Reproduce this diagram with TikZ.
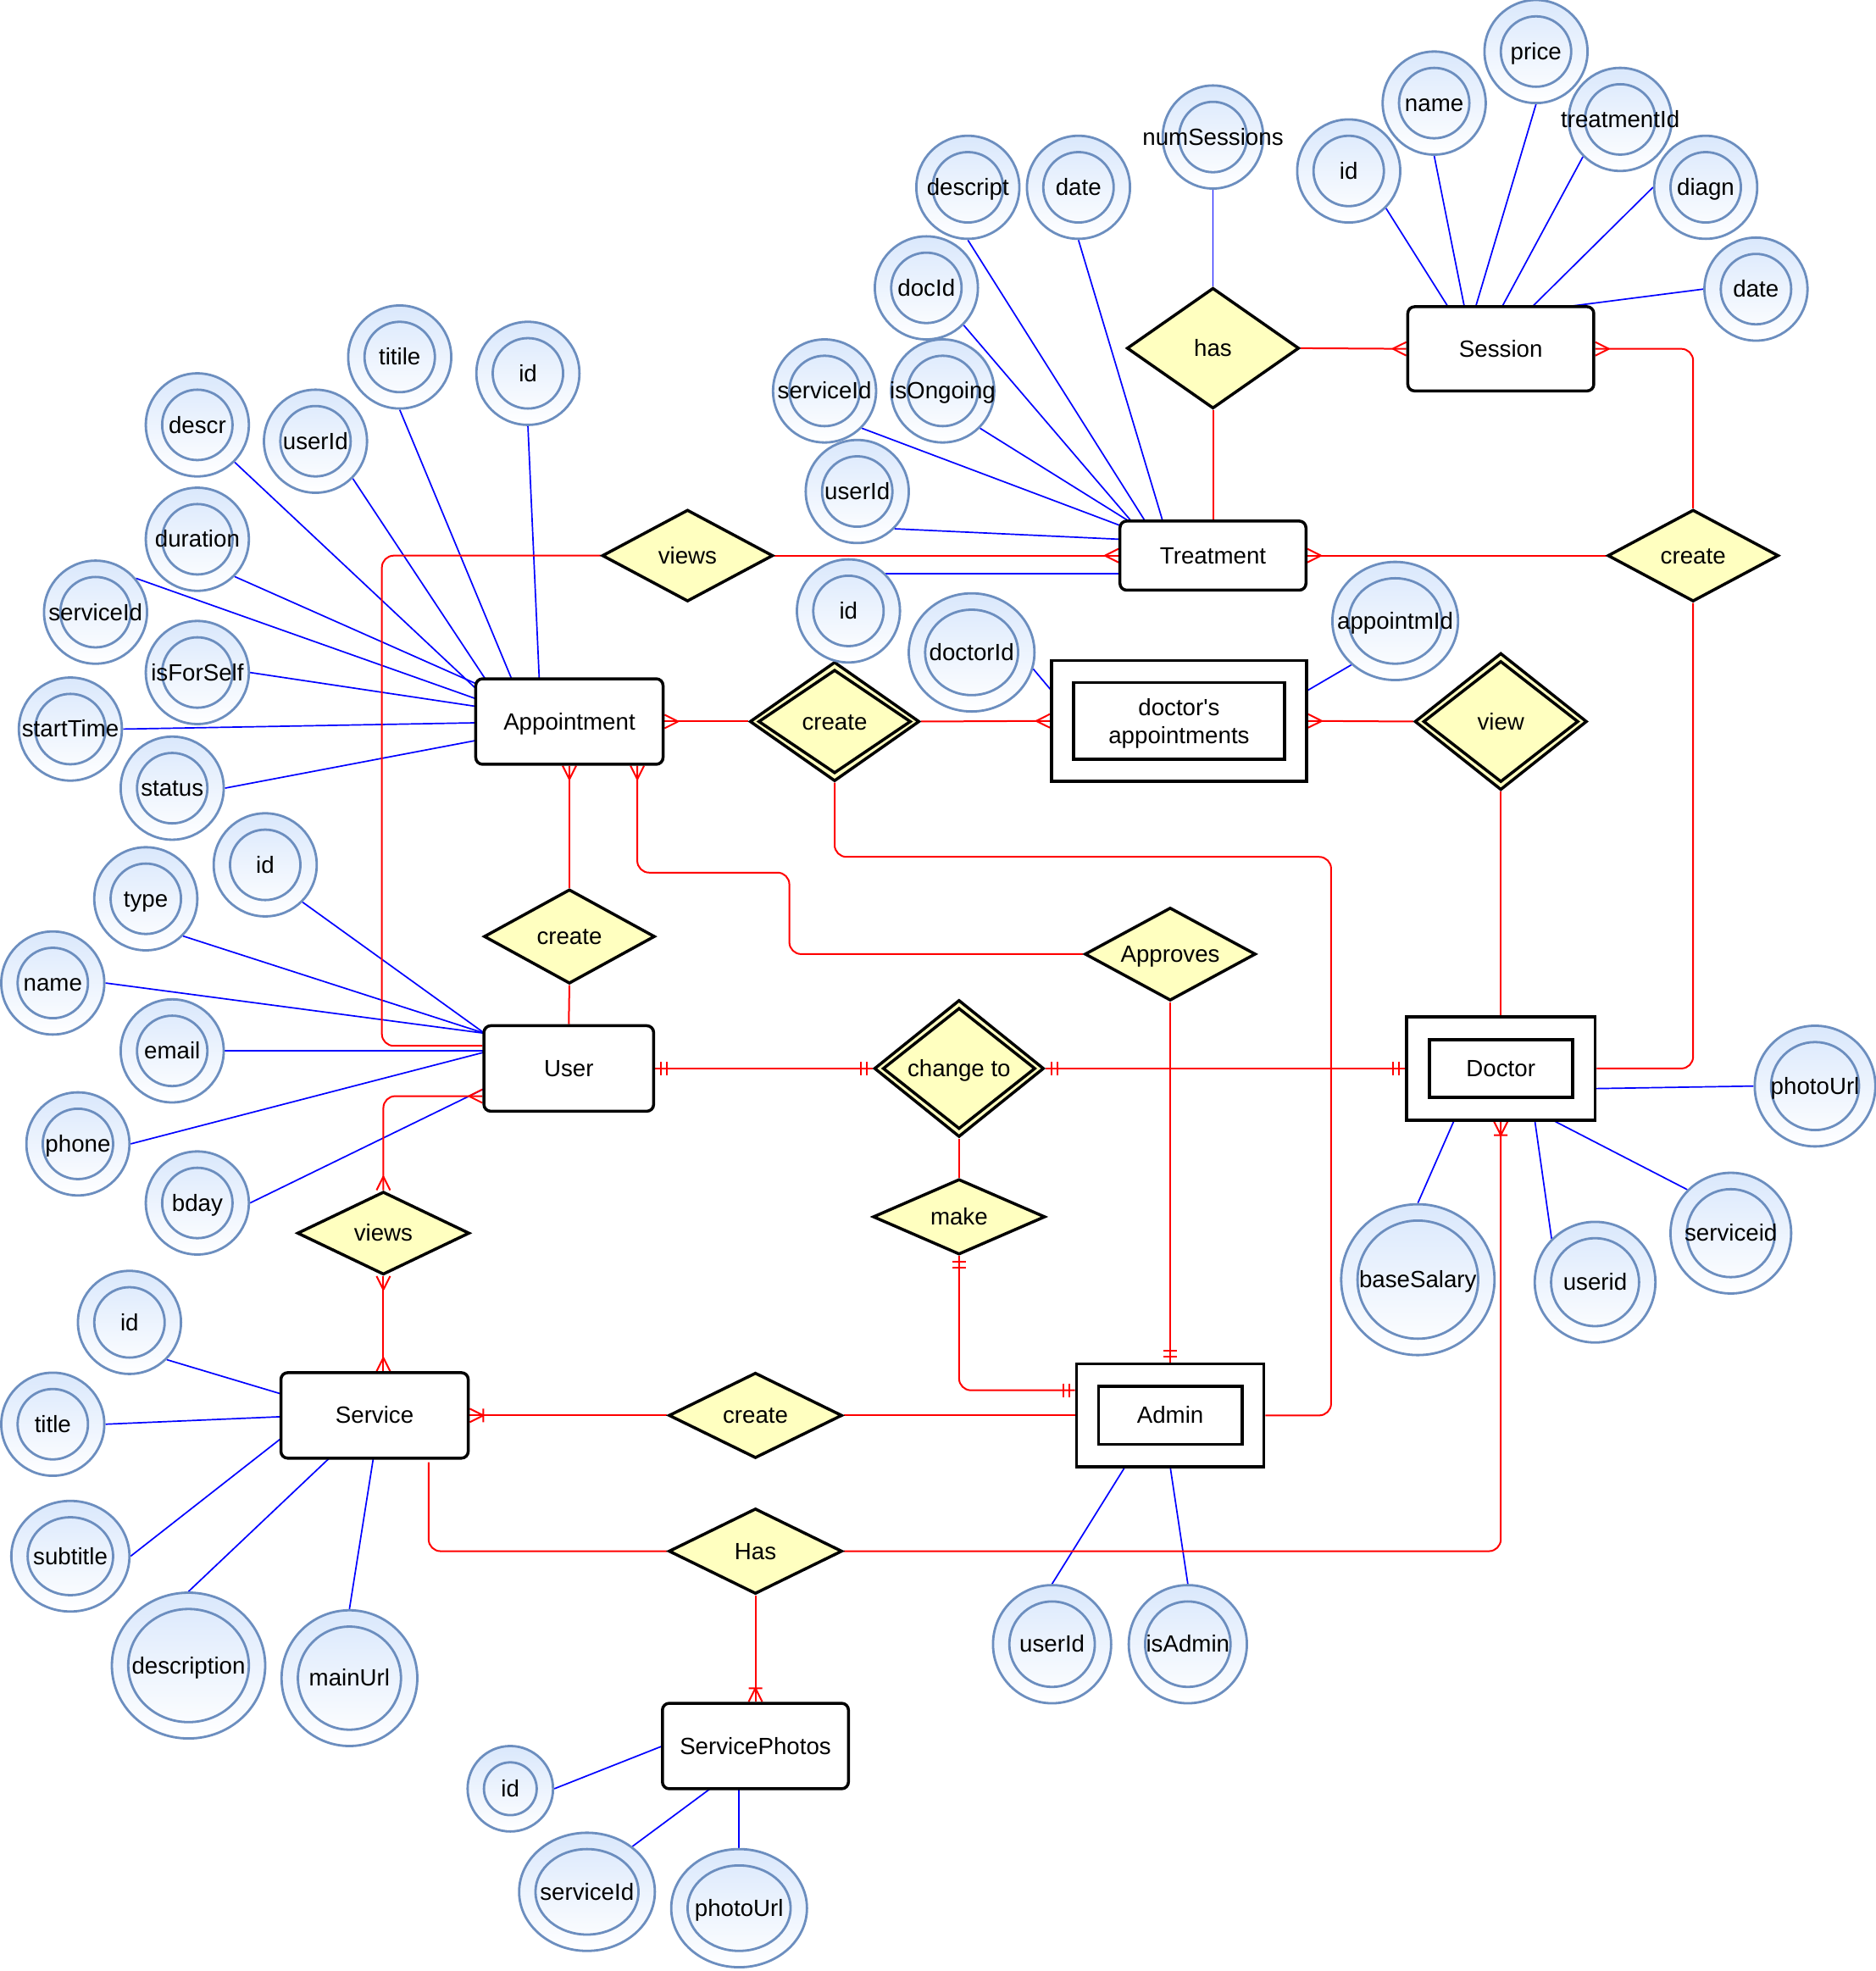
\documentclass[tikz,border=0pt]{standalone}
\usepackage{fontspec}
\setmainfont{Liberation Sans}
\usetikzlibrary{shapes.geometric,arrows.meta}

\definecolor{attrline}{HTML}{6C8EBF}
\definecolor{attrtop}{HTML}{DAE8FC}
\definecolor{relfill}{HTML}{FFFFC0}
\definecolor{linkred}{HTML}{FF0000}
\definecolor{linkblue}{HTML}{0000FF}

% one drawing unit
\newcommand\ux{1.4839pt}

\pgfdeclarelayer{bg}
\pgfsetlayers{bg,main}

% crow's foot: many
\pgfdeclarearrow{
  name = ERMany,
  setup code = {
    \pgfarrowssettipend{0pt}
    \pgfarrowssetlineend{0pt}
    \pgfarrowssetbackend{-16pt}
    \pgfarrowssetvisualbackend{-16pt}
    \pgfarrowshullpoint{0pt}{8pt}
    \pgfarrowshullpoint{0pt}{-8pt}
    \pgfarrowshullpoint{-16pt}{0pt}
  },
  drawing code = {
    \pgfpathmoveto{\pgfqpoint{0pt}{8pt}}
    \pgfpathlineto{\pgfqpoint{-16pt}{0pt}}
    \pgfpathmoveto{\pgfqpoint{0pt}{-8pt}}
    \pgfpathlineto{\pgfqpoint{-16pt}{0pt}}
    \pgfusepathqstroke
  }
}
% mandatory one
\pgfdeclarearrow{
  name = ERMandOne,
  setup code = {
    \pgfarrowssettipend{0pt}
    \pgfarrowssetlineend{0pt}
    \pgfarrowssetbackend{-15pt}
    \pgfarrowssetvisualbackend{-15pt}
    \pgfarrowshullpoint{0pt}{8pt}
    \pgfarrowshullpoint{0pt}{-8pt}
    \pgfarrowshullpoint{-15pt}{8pt}
    \pgfarrowshullpoint{-15pt}{-8pt}
  },
  drawing code = {
    \pgfpathmoveto{\pgfqpoint{-7pt}{8pt}}
    \pgfpathlineto{\pgfqpoint{-7pt}{-8pt}}
    \pgfpathmoveto{\pgfqpoint{-14pt}{8pt}}
    \pgfpathlineto{\pgfqpoint{-14pt}{-8pt}}
    \pgfusepathqstroke
  }
}
% one or many
\pgfdeclarearrow{
  name = EROneMany,
  setup code = {
    \pgfarrowssettipend{0pt}
    \pgfarrowssetlineend{0pt}
    \pgfarrowssetbackend{-17pt}
    \pgfarrowssetvisualbackend{-17pt}
    \pgfarrowshullpoint{0pt}{8pt}
    \pgfarrowshullpoint{0pt}{-8pt}
    \pgfarrowshullpoint{-17pt}{8pt}
    \pgfarrowshullpoint{-17pt}{-8pt}
  },
  drawing code = {
    \pgfpathmoveto{\pgfqpoint{0pt}{8pt}}
    \pgfpathlineto{\pgfqpoint{-16pt}{0pt}}
    \pgfpathmoveto{\pgfqpoint{0pt}{-8pt}}
    \pgfpathlineto{\pgfqpoint{-16pt}{0pt}}
    \pgfpathmoveto{\pgfqpoint{-16pt}{8pt}}
    \pgfpathlineto{\pgfqpoint{-16pt}{-8pt}}
    \pgfusepathqstroke
  }
}

\tikzset{
  txt/.style={text height=25.1pt, text depth=5.9pt},
  ent/.style={draw, line width=3.5pt, rounded corners=8pt, fill=white, txt,
    minimum width=148*\ux, minimum height=68*\ux, inner sep=0pt},
  wkout/.style={draw, line width=3.8pt, fill=white, inner sep=0pt},
  wkin/.style={draw, line width=3.8pt, inner sep=0pt, align=center},
  rel/.style={diamond, draw, line width=3.5pt, fill=relfill, inner sep=0pt},
  attr/.style={ellipse, draw=attrline, line width=2.8pt, top color=attrtop,
    bottom color=white, inner sep=0pt},
  lbl/.style={inner sep=0pt, align=center, txt},
  conn/.style={draw=linkred, line width=2pt, rounded corners=14pt},
  alink/.style={draw=linkblue, line width=1.7pt},
}

% relationship diamond: name, position, width, height, label
\newcommand\relnode[5]{%
  \node[rel, minimum width=#3*\ux, minimum height=#4*\ux] (#1) at (#2) {};
  \node[lbl] at (#1) {#5};}
% inner outline of an identifying relationship
\newcommand\relinner[1]{%
  \draw[line width=3.5pt] ([shift={(8.5,0)}]#1.west) -- ([shift={(0,8)}]#1.north)
    -- ([shift={(-8.5,0)}]#1.east) -- ([shift={(0,-8)}]#1.south) -- cycle;}
% attribute: name, x, y, x radius, y radius, label
\newcommand\attrib[6]{%
  \node[attr, minimum width=2*#4*\ux, minimum height=2*#5*\ux] (#1) at (#2,#3) {};
  \draw[draw=attrline, line width=2.8pt] (#1.center) ellipse [x radius=#4-13, y radius=#5-13];
  \node[lbl] at (#1) {#6};}

\begin{document}
\begin{tikzpicture}[x=\ux, y=-\ux, font=\fontsize{27.7pt}{32.6pt}\selectfont]
\useasboundingbox (0,0) rectangle (1492,1568);

% ---------- entities ----------
\node[ent, minimum height=67*\ux] (sess) at (1194,277.5) {Session};
\node[ent, minimum height=55*\ux] (treat) at (965,442) {Treatment};
\node[ent, minimum width=149*\ux] (appt) at (453,574) {Appointment};
\node[ent, minimum width=135*\ux] (user) at (452.5,850) {User};
\node[ent, minimum width=149*\ux] (serv) at (298,1126) {Service};
\node[ent] (sph) at (601,1389) {ServicePhotos};

\node[wkout, minimum width=203*\ux, minimum height=96*\ux] (dapp) at (938,573.5) {};
\node[wkin, minimum width=168*\ux, minimum height=61*\ux] (dappin) at (dapp) {};
\node[lbl, text height=, text depth=, yshift=-3pt] at (dapp) {doctor\textquotesingle s\\appointments};
\node[wkout, minimum width=150*\ux, minimum height=82*\ux] (doc) at (1194,850) {};
\node[wkin, txt, minimum width=114*\ux, minimum height=46*\ux] (docin) at (doc) {Doctor};
\node[wkout, minimum width=149*\ux, minimum height=82*\ux] (adm) at (931,1126) {};
\node[wkin, txt, minimum width=114*\ux, minimum height=46*\ux] (admin) at (adm) {Admin};

% ---------- relationships ----------
\relnode{has}{965,277}{137}{96}{has}
\relnode{vtop}{547,442}{136}{73}{views}
\relnode{crR}{1347,442}{136}{73}{create}
\relnode{crA}{453,745}{136}{75}{create}
\relnode{appr}{931,759}{136}{74}{Approves}
\relnode{make}{763,968}{137}{60}{make}
\relnode{vbot}{305,981}{137}{66}{views}
\relnode{crS}{601,1126}{138}{68}{create}
\relnode{hasP}{601,1234}{138}{68}{Has}
\relnode{crD}{664,574}{135}{95}{}
\relinner{crD}
\node[lbl] at (crD) {create};
\relnode{chg}{763,850}{135}{109}{}
\relinner{chg}
\node[lbl] at (chg) {change to};
\relnode{vw}{1194,574}{137}{109}{}
\relinner{vw}
\node[lbl] at (vw) {view};

% ---------- attributes ----------
% Session
\attrib{sA1}{1073}{136}{41}{41}{id}
\attrib{sA2}{1141}{82}{41}{41}{name}
\attrib{sA3}{1222}{41}{41}{41}{price}
\attrib{sA4}{1289}{95}{41}{41}{treatmentId}
\attrib{sA5}{1357}{149}{41}{41}{diagn}
\attrib{sA6}{1397}{230}{41}{41}{date}
% Treatment
\attrib{tA1}{965}{109}{40}{41}{numSessions}
\attrib{tA2}{770}{149}{41}{41}{descript}
\attrib{tA3}{858}{149}{41}{41}{date}
\attrib{tA4}{737}{229}{41}{41}{docId}
\attrib{tA5}{656}{311}{41}{41}{serviceId}
\attrib{tA6}{750}{311}{41}{41}{isOngoing}
\attrib{tA7}{682}{391}{41}{41}{userId}
\attrib{tA8}{675}{486}{41}{41}{id}
% doctor's appointments
\attrib{dA1}{773}{519}{50}{47}{doctorId}
\attrib{dA2}{1110}{494}{50}{47}{appointmId}
% Appointment
\attrib{aA1}{318}{284}{41}{41}{titile}
\attrib{aA2}{420}{297}{41}{41}{id}
\attrib{aA3}{157}{338}{41}{41}{descr}
\attrib{aA4}{251}{351}{41}{41}{userId}
\attrib{aA5}{157}{429}{41}{41}{duration}
\attrib{aA6}{76}{487}{41}{41}{serviceId}
\attrib{aA7}{157}{535}{41}{41}{isForSelf}
\attrib{aA8}{56}{580}{41}{41}{startTime}
\attrib{aA9}{137}{627}{41}{41}{status}
% User
\attrib{uA1}{211}{688}{41}{41}{id}
\attrib{uA2}{116}{715}{41}{41}{type}
\attrib{uA3}{42}{782}{41}{41}{name}
\attrib{uA4}{137}{836}{41}{41}{email}
\attrib{uA5}{62}{910}{41}{41}{phone}
\attrib{uA6}{157}{957}{41}{41}{bday}
% Service
\attrib{svA1}{103}{1052}{41}{41}{id}
\attrib{svA2}{42}{1133}{41}{41}{title}
\attrib{svA3}{56}{1238}{47}{44}{subtitle}
\attrib{svA4}{150}{1325}{61}{58}{description}
\attrib{svA5}{278}{1335}{54}{54}{mainUrl}
% ServicePhotos
\attrib{pA1}{406}{1423}{34}{34}{id}
\attrib{pA2}{467}{1505}{54}{47}{serviceId}
\attrib{pA3}{588}{1518}{54}{47}{photoUrl}
% Admin
\attrib{mA1}{837}{1308}{47}{47}{userId}
\attrib{mA2}{945}{1308}{47}{47}{isAdmin}
% Doctor
\attrib{oA1}{1128}{1018}{61}{60}{baseSalary}
\attrib{oA2}{1269}{1020}{48}{48}{userid}
\attrib{oA3}{1377}{981}{48}{48}{serviceid}
\attrib{oA4}{1444}{864}{48}{48}{photoUrl}

\begin{pgfonlayer}{bg}
\fill[white] (0,0) rectangle (1492,1568);

% ---------- attribute links ----------
\draw[alink] (sA1.-45) -- ([shift={(-42,-33.5)}]sess.center);
\draw[alink] (sA2.south) -- ([shift={(-29,-33.5)}]sess.center);
\draw[alink] (sA3.south) -- ([shift={(-20,-33.5)}]sess.center);
\draw[alink] (sA4.-135) -- ([shift={(1,-33.5)}]sess.center);
\draw[alink] (sA5.west) -- ([shift={(25,-33.5)}]sess.center);
\draw[alink] (sA6.west) -- ([shift={(52,-33.5)}]sess.center);

\draw[alink] (tA1.south) -- (has.north);
\draw[alink] (tA2.south) -- ([shift={(-54,-27.5)}]treat.center);
\draw[alink] (tA3.south) -- ([shift={(-40,-27.5)}]treat.center);
\draw[alink] (tA4.-45) -- ([shift={(-65,-27.5)}]treat.center);
\draw[alink] (tA5.-45) -- ([shift={(-74,-24)}]treat.center);
\draw[alink] (tA6.-45) -- ([shift={(-67,-27.5)}]treat.center);
\draw[alink] (tA7.-45) -- ([shift={(-74,-13)}]treat.center);
\draw[alink] (tA8.45) -- (tA8.45 -| treat.west);

\draw[alink] (dA1.-15) -- ([shift={(-101,-23.5)}]dapp.center);
\draw[alink] (dA2.-135) -- ([shift={(101,-23.5)}]dapp.center);

\draw[alink] (aA1.south) -- ([shift={(-46,-34)}]appt.center);
\draw[alink] (aA2.south) -- ([shift={(-24,-34)}]appt.center);
\draw[alink] (aA3.-45) -- ([shift={(-72,-24)}]appt.center);
\draw[alink] (aA4.-45) -- ([shift={(-67,-34)}]appt.center);
\draw[alink] (aA5.-45) -- ([shift={(-74,-30)}]appt.center);
\draw[alink] (aA6.40) -- ([shift={(-74,-18)}]appt.center);
\draw[alink] (aA7.east) -- ([shift={(-74,-12)}]appt.center);
\draw[alink] (aA8.east) -- ([shift={(-74,1)}]appt.center);
\draw[alink] (aA9.east) -- ([shift={(-74,15)}]appt.center);

\draw[alink] (uA1.-45) -- ([shift={(-67,-28)}]user.center);
\draw[alink] (uA2.-45) -- ([shift={(-67,-28)}]user.center);
\draw[alink] (uA3.east) -- ([shift={(-67,-28)}]user.center);
\draw[alink] (uA4.east) -- ([shift={(-67,-14)}]user.center);
\draw[alink] (uA5.east) -- ([shift={(-67,-13)}]user.center);
\draw[alink] (uA6.east) -- ([shift={(-67,16)}]user.center);

\draw[alink] (svA1.-45) -- ([shift={(-74,-17)}]serv.center);
\draw[alink] (svA2.east) -- ([shift={(-74,1)}]serv.center);
\draw[alink] (svA3.east) -- ([shift={(-74,18)}]serv.center);
\draw[alink] (svA4.north) -- ([shift={(-36,34)}]serv.center);
\draw[alink] (svA5.north) -- ([shift={(-1,34)}]serv.center);

\draw[alink] (pA1.east) -- ([shift={(-74,0)}]sph.center);
\draw[alink] (pA2.45) -- ([shift={(-36,34)}]sph.center);
\draw[alink] (pA3.north) -- ([shift={(-13,34)}]sph.center);

\draw[alink] (mA1.north) -- ([shift={(-36,41)}]adm.center);
\draw[alink] (mA2.north) -- ([shift={(0,41)}]adm.center);

\draw[alink] (oA1.north) -- ([shift={(-37,41)}]doc.center);
\draw[alink] (oA2.135) -- ([shift={(27,41)}]doc.center);
\draw[alink] (oA3.135) -- ([shift={(41,41)}]doc.center);
\draw[alink] (oA4.west) -- ([shift={(75,16)}]doc.center);

% ---------- relationship links ----------
\draw[conn, -{ERMany}] (has.east) -- (sess.west);
\draw[conn] (has.south) -- (treat.north);
\draw[conn, {ERMany}-] (sess.east) -| (crR.north);
\draw[conn, -{ERMany}] (crR.west) -- (treat.east);
\draw[conn] (crR.south) |- (doc.east);

\draw[conn, -{ERMany}] (vtop.east) -- (treat.west);
\draw[conn] (vtop.west) -- ++(-174,0) |- ([shift={(0,-18)}]user.west);

\draw[conn, {ERMany}-] (appt.east) -- (crD.west);
\draw[conn, -{ERMany}] (crD.east) -- (dapp.west);
\draw[conn] (crD.south) -- ++(0,59) -- ++(395,0) |- (adm.east);

\draw[conn, {ERMany}-] (appt.south) -- (crA.north);
\draw[conn] (crA.south) -- (user.north);
\draw[conn, {ERMany}-] ([shift={(54,0)}]appt.south) -- ++(0,85) -- ++(121,0) |- (appr.west);
\draw[conn, -{ERMandOne}] (appr.south) -- (adm.north);

\draw[conn, {ERMandOne}-{ERMandOne}] (user.east) -- (chg.west);
\draw[conn, {ERMandOne}-{ERMandOne}] (chg.east) -- (doc.west);
\draw[conn] (chg.south) -- (make.north);
\draw[conn, {ERMandOne}-{ERMandOne}] (make.south) |- ([shift={(0,-20)}]adm.west);

\draw[conn, -{ERMany}] (vw.west) -- (dapp.east);
\draw[conn] (vw.south) -- (doc.north);

\draw[conn, {ERMany}-{ERMany}] ([shift={(0,22)}]user.west) -| (vbot.north);
\draw[conn, {ERMany}-{ERMany}] (vbot.south) -- (vbot.south |- serv.north);

\draw[conn, -{EROneMany}] (crS.west) -- (serv.east);
\draw[conn] (crS.east) -- (adm.west);
\draw[conn] ([shift={(43,2)}]serv.south) |- (hasP.west);
\draw[conn, -{EROneMany}] (hasP.east) -| (doc.south);
\draw[conn, -{EROneMany}] (hasP.south) -- (sph.north);
\end{pgfonlayer}
\end{tikzpicture}
\end{document}
